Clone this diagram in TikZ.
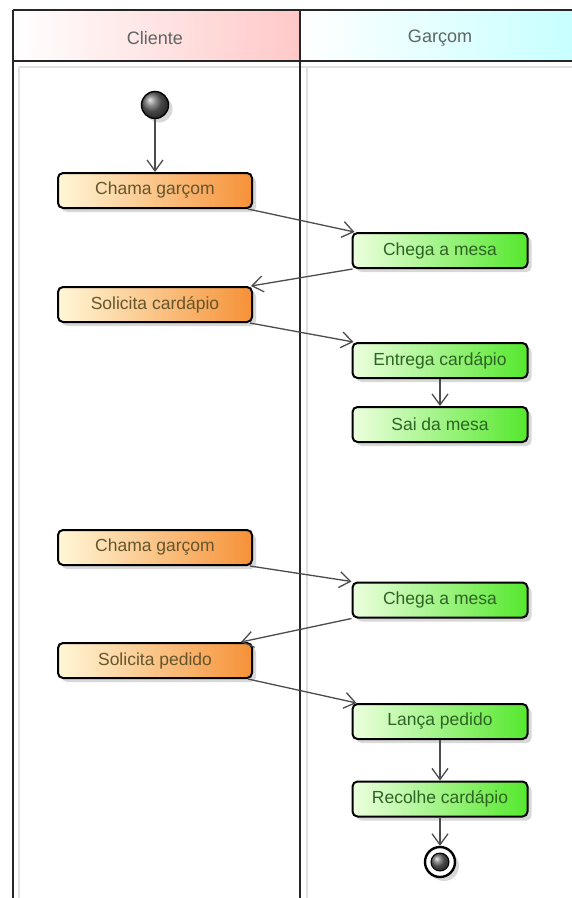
\documentclass[tikz,border=0pt]{standalone}
\usepackage{fontspec}
\setmainfont{Liberation Sans}
\usetikzlibrary{arrows.meta,shadows}
\definecolor{creme}{RGB}{255,247,215}
\definecolor{laranja}{RGB}{246,145,55}
\definecolor{verdeclaro}{RGB}{236,255,222}
\definecolor{verde}{RGB}{85,232,45}
\definecolor{rosa}{RGB}{255,200,200}
\definecolor{ciano}{RGB}{200,255,255}
\definecolor{txtlaranja}{RGB}{100,85,45}
\definecolor{txtverde}{RGB}{45,100,35}
\definecolor{txtcabecalho}{RGB}{95,100,100}
\begin{document}
\begin{tikzpicture}[x=1pt,y=-1pt,
    acao/.style={rectangle, rounded corners=5pt, draw=black, line width=2pt,
      minimum height=35pt, inner sep=2pt, font=\fontsize{17.5}{20}\selectfont,
      drop shadow={shadow xshift=4pt, shadow yshift=-4pt, fill=black!30, opacity=0.5}},
    cliente/.style={acao, minimum width=194pt, left color=creme, right color=laranja, text=txtlaranja},
    garcom/.style={acao, minimum width=175pt, left color=verdeclaro, right color=verde, text=txtverde},
    cabecalho/.style={font=\fontsize{18}{21}\selectfont, text=txtcabecalho},
    fluxo/.style={draw=black!70, line width=1.3pt, -{Straight Barb[length=11pt,width=16pt]}},
    raia/.style={draw=black!85, line width=2pt},
    sombra/.style={draw=black!12, line width=2pt}]
  \useasboundingbox (0,0) rectangle (572,898);
  \fill[white] (0,0) rectangle (572,898);

  % raias
  \shade[left color=white, right color=rosa] (13,10) rectangle (300,61);
  \shade[left color=white, right color=ciano] (300,10) rectangle (572,61);
  \draw[sombra] (19,67) -- (19,898);
  \draw[sombra] (307,67) -- (307,898);
  \draw[sombra] (19,67) -- (572,67);
  \draw[raia] (13,10) -- (572,10);
  \draw[raia] (13,61) -- (572,61);
  \draw[raia] (13,10) -- (13,898);
  \draw[raia] (300,10) -- (300,898);
  \node[cabecalho] (cliente) at (155,38) {Cliente};
  \node[cabecalho] (garcom) at (440,38) {Garçom};

  % atividades
  \node[circle, minimum size=27pt, inner sep=0pt, draw=black, line width=1.4pt,
    ball color=black!60, drop shadow={shadow xshift=4pt, shadow yshift=-4pt, fill=black!30, opacity=0.5}]
    (inicio) at (155,105) {};
  \node[cliente] (chama1) at (155,190.5) {Chama garçom};
  \node[garcom] (chega1) at (440,250.5) {Chega a mesa};
  \node[cliente] (solcardapio) at (155,304.5) {Solicita cardápio};
  \node[garcom] (entrega) at (440,360.5) {Entrega cardápio};
  \node[garcom] (sai) at (440,424.5) {Sai da mesa};
  \node[cliente] (chama2) at (155,547.5) {Chama garçom};
  \node[garcom] (chega2) at (440,600) {Chega a mesa};
  \node[cliente] (solpedido) at (155,660.5) {Solicita pedido};
  \node[garcom] (lanca) at (440,721.5) {Lança pedido};
  \node[garcom] (recolhe) at (440,799) {Recolhe cardápio};
  \node[circle, minimum size=30pt, inner sep=0pt, draw=black, line width=2.4pt, fill=white,
    drop shadow={shadow xshift=4pt, shadow yshift=-4pt, fill=black!30, opacity=0.5}]
    (fim) at (440,862) {};
  \shade[ball color=black!60, draw=black, line width=1pt] (fim.center) circle [radius=9pt];

  % fluxos
  \draw[fluxo] (inicio) -- (chama1);
  \draw[fluxo] ([xshift=-5pt]chama1.south east) -- ([xshift=3pt]chega1.north west);
  \draw[fluxo] ([xshift=1pt]chega1.south west) -- ([xshift=-2pt]solcardapio.north east);
  \draw[fluxo] ([xshift=-3pt]solcardapio.south east) -- ([xshift=2pt]entrega.north west);
  \draw[fluxo] (entrega) -- (sai);
  \draw[fluxo] ([xshift=-3pt]chama2.south east) -- (chega2.north west);
  \draw[fluxo] (chega2.south west) -- ([xshift=-12pt]solpedido.north east);
  \draw[fluxo] ([xshift=-5pt]solpedido.south east) -- ([xshift=5pt]lanca.north west);
  \draw[fluxo] (lanca) -- (recolhe);
  \draw[fluxo] (recolhe) -- (fim);
\end{tikzpicture}
\end{document}
